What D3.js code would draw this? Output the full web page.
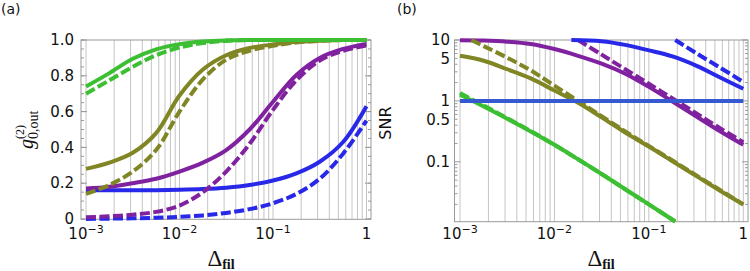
<!DOCTYPE html>
<html>
<head>
<meta charset="utf-8">
<script src="https://cdn.jsdelivr.net/npm/d3@7"></script>
<style>
  body { margin: 0; background: #fff; }
  svg { display: block; }
  .tick-label { font-family: "DejaVu Sans", sans-serif; font-size: 15px; fill: #111; }
</style>
</head>
<body>
<div id="chart"></div>
<script>
// ---- data ----
// common sample grid for Delta_fil
var deltaGrid = [0.001, 0.00178, 0.00316, 0.00562, 0.01, 0.0178, 0.0316, 0.0562, 0.1, 0.178, 0.316, 0.562, 1];

// panel (a): g2(0,out)
var g2GreenSolid  = [0.74, 0.815, 0.895, 0.948, 0.977, 0.992, 0.998, 1, 1, 1, 1, 1, 1];
var g2GreenDash   = [0.70, 0.775, 0.85, 0.915, 0.958, 0.983, 0.995, 1, 1, 1, 1, 1, 1];
var g2OliveSolid  = [0.28, 0.315, 0.37, 0.48, 0.69, 0.835, 0.915, 0.955, 0.975, 0.99, 0.996, 1, 1];
var g2OliveDash   = [0.14, 0.19, 0.265, 0.385, 0.60, 0.78, 0.89, 0.94, 0.968, 0.986, 0.995, 1, 1];
var g2PurpleSolid = [0.17, 0.18, 0.20, 0.225, 0.265, 0.315, 0.385, 0.50, 0.655, 0.805, 0.90, 0.95, 0.978];
var g2PurpleDash  = [0.01, 0.015, 0.024, 0.04, 0.075, 0.15, 0.265, 0.42, 0.61, 0.775, 0.885, 0.94, 0.97];
var g2BlueSolid   = [0.16, 0.16, 0.16, 0.161, 0.163, 0.167, 0.175, 0.19, 0.215, 0.255, 0.32, 0.43, 0.63];
var g2BlueDash    = [0.0, 0.002, 0.004, 0.007, 0.012, 0.02, 0.034, 0.055, 0.088, 0.14, 0.225, 0.365, 0.55];

// panel (b): SNR
var snrPurpleSolid = [9.9, 9.8, 9.4, 8.6, 7.1, 5.5, 4.1, 2.8, 1.7, 0.98, 0.56, 0.32, 0.19];
var deltaPurpleDash = [0.0178, 0.0316, 0.0562, 0.1, 0.178, 0.316, 0.562, 1];
var snrPurpleDash   = [10, 5.75, 3.31, 1.91, 1.10, 0.63, 0.36, 0.21];
var snrOliveSolid  = [5.5, 4.57, 3.31, 2.34, 1.48, 0.93, 0.537, 0.302, 0.178, 0.102, 0.0589, 0.0339, 0.020];
var deltaOliveDash = [0.00132, 0.00178, 0.00316, 0.00562, 0.01, 0.0178, 0.0316, 0.0562, 0.1, 0.178, 0.316, 0.562, 1];
var snrOliveDash   = [10, 7.94, 5.13, 3.16, 1.78, 1.0, 0.562, 0.316, 0.182, 0.105, 0.0603, 0.0347, 0.020];
var deltaGreen     = [0.001, 0.00178, 0.00316, 0.00562, 0.01, 0.0178, 0.0316, 0.0562, 0.1, 0.19];
var snrGreenSolid  = [1.26, 0.81, 0.51, 0.316, 0.19, 0.11, 0.063, 0.0355, 0.020, 0.0105];
var snrGreenDash   = [1.35, 0.84, 0.52, 0.32, 0.19, 0.11, 0.063, 0.0355, 0.020, 0.0105];
var deltaBlueSolid = [0.0151, 0.0316, 0.0562, 0.1, 0.178, 0.316, 0.562, 1];
var snrBlueSolid   = [10, 9.55, 8.32, 6.76, 5.37, 3.80, 2.45, 1.58];
var deltaBlueDash  = [0.19, 0.316, 0.562, 1];
var snrBlueDash    = [10, 6.1, 3.55, 2.05];
var deltaUnity     = [0.001, 1];
var snrUnity       = [1, 1];

// tick labels
var g2Ticks = [0, 0.2, 0.4, 0.6, 0.8, 1.0];
var g2TickText = ["0", "0.2", "0.4", "0.6", "0.8", "1.0"];
var snrTicks = [10, 5, 1, 0.5, 0.1];
var snrTickText = ["10", "5", "1", "0.5", "0.1"];
var xTicks = [0.001, 0.01, 0.1, 1];
var xTickExp = ["\u22123", "\u22122", "\u22121", ""];

var colors = {
    green: "#3dbf33",
    olive: "#818624",
    purple: "#8022a0",
    blue: "#2828e8",
    unity: "#3658d0"
};

var svgWidth = 750;
var svgHeight = 271;

var svg = d3.select("#chart")
    .append("svg")
    .attr("width", svgWidth)
    .attr("height", svgHeight);

// panel frames (pixel boxes)
var frameA = { left: 81, right: 371, top: 40, bottom: 219.3 };
var frameB = { left: 454.5, right: 748, top: 40, bottom: 221.7 };

// Step 1: scales
var xA = d3.scaleLog().domain([0.001, 1]).range([86, 366.5]);
var yA = d3.scaleLinear().domain([0, 1]).range([219, 40]);
var xB = d3.scaleLog().domain([0.001, 1]).range([460, 743.3]);
var yB = d3.scaleLog().domain([0.0104, 10]).range([frameB.bottom, 40]);

// grid positions 1..9 x decade
var gridVals = [];
[0.001, 0.01, 0.1].forEach(function(dec) {
    for (var k = 1; k < 10; k++) gridVals.push(dec * k);
});
gridVals.push(1);

function drawFrame(frame, xScale) {
    var g = svg.append("g");
    g.selectAll("line.grid")
        .data(gridVals)
        .enter()
        .append("line")
        .attr("x1", d => xScale(d))
        .attr("x2", d => xScale(d))
        .attr("y1", frame.top)
        .attr("y2", frame.bottom)
        .attr("stroke", "#bdbdbd")
        .attr("stroke-width", 0.9);
    g.append("rect")
        .attr("x", frame.left)
        .attr("y", frame.top)
        .attr("width", frame.right - frame.left)
        .attr("height", frame.bottom - frame.top)
        .attr("fill", "none")
        .attr("stroke", "#9a9a9a")
        .attr("stroke-width", 1);

    // x tick labels: 10^n
    var lab = g.selectAll("text.xt")
        .data(xTicks)
        .enter()
        .append("text")
        .attr("class", "tick-label")
        .attr("x", d => xScale(d))
        .attr("y", 239)
        .attr("text-anchor", "middle");
    lab.each(function(d, i) {
        var t = d3.select(this);
        if (xTickExp[i] === "") {
            t.text("1");
        } else {
            t.append("tspan").text("10");
            t.append("tspan").attr("dy", -6).attr("font-size", "11px").text(xTickExp[i]);
        }
    });
    return g;
}

function yTickMarks(g, frame, scale, vals, len) {
    g.selectAll(null)
        .data(vals)
        .enter()
        .append("path")
        .attr("d", d => "M" + frame.left + "," + scale(d) + "h" + len +
            "M" + frame.right + "," + scale(d) + "h" + (-len))
        .attr("stroke", "#9a9a9a")
        .attr("stroke-width", 1);
}

function drawLine(xScale, yScale, xs, ys, color, dashed) {
    var pts = xs.map(function(x, i) { return [x, ys[i]]; });
    var line = d3.line()
        .x(d => xScale(d[0]))
        .y(d => yScale(d[1]))
        .curve(d3.curveCatmullRom.alpha(0.5));
    svg.append("path")
        .datum(pts)
        .attr("d", line)
        .attr("fill", "none")
        .attr("stroke", color)
        .attr("stroke-width", 4)
        .attr("stroke-dasharray", dashed ? "10,3.5" : null);
}

// Step 2: panel (a)
var gA = drawFrame(frameA, xA);
var minorA = d3.range(0, 1.0001, 0.05);
yTickMarks(gA, frameA, yA, minorA, 3);
yTickMarks(gA, frameA, yA, g2Ticks, 6);
gA.selectAll("text.yt")
    .data(g2Ticks)
    .enter()
    .append("text")
    .attr("class", "tick-label")
    .attr("x", 74)
    .attr("y", d => yA(d))
    .attr("dy", "0.34em")
    .attr("text-anchor", "end")
    .text((d, i) => g2TickText[i]);

drawLine(xA, yA, deltaGrid, g2BlueSolid, colors.blue, false);
drawLine(xA, yA, deltaGrid, g2BlueDash, colors.blue, true);
drawLine(xA, yA, deltaGrid, g2PurpleSolid, colors.purple, false);
drawLine(xA, yA, deltaGrid, g2PurpleDash, colors.purple, true);
drawLine(xA, yA, deltaGrid, g2OliveSolid, colors.olive, false);
drawLine(xA, yA, deltaGrid, g2OliveDash, colors.olive, true);
drawLine(xA, yA, deltaGrid, g2GreenSolid, colors.green, false);
drawLine(xA, yA, deltaGrid, g2GreenDash, colors.green, true);

// Step 3: panel (b)
var gB = drawFrame(frameB, xB);
var minorB = [];
[0.01, 0.1, 1].forEach(function(dec) {
    for (var k = 2; k < 10; k++) minorB.push(dec * k);
});
yTickMarks(gB, frameB, yB, minorB, 3);
yTickMarks(gB, frameB, yB, [0.1, 1, 10], 6);
gB.selectAll("text.yt")
    .data(snrTicks)
    .enter()
    .append("text")
    .attr("class", "tick-label")
    .attr("x", 450)
    .attr("y", d => yB(d))
    .attr("dy", "0.36em")
    .attr("text-anchor", "end")
    .text((d, i) => snrTickText[i]);

drawLine(xB, yB, deltaGrid, snrPurpleSolid, colors.purple, false);
drawLine(xB, yB, deltaPurpleDash, snrPurpleDash, colors.purple, true);
drawLine(xB, yB, deltaGrid, snrOliveSolid, colors.olive, false);
drawLine(xB, yB, deltaOliveDash, snrOliveDash, colors.olive, true);
drawLine(xB, yB, deltaGreen, snrGreenSolid, colors.green, false);
drawLine(xB, yB, deltaGreen, snrGreenDash, colors.green, true);
drawLine(xB, yB, deltaBlueSolid, snrBlueSolid, colors.blue, false);
drawLine(xB, yB, deltaBlueDash, snrBlueDash, colors.blue, true);
drawLine(xB, yB, deltaUnity, snrUnity, colors.unity, false);

// Step 4: labels
svg.append("text").attr("class", "tick-label")
    .style("font-size", "14px").attr("x", 1).attr("y", 14).text("(a)");
svg.append("text").attr("class", "tick-label")
    .style("font-size", "14px").attr("x", 397).attr("y", 14).text("(b)");

function deltaLabel(cx) {
    var t = svg.append("text")
        .attr("x", cx)
        .attr("y", 266)
        .attr("text-anchor", "middle")
        .attr("font-family", "'Liberation Serif', serif")
        .attr("fill", "#111");
    t.append("tspan").attr("font-size", "23px").text("\u0394");
    t.append("tspan").attr("font-size", "14px").attr("font-weight", "bold")
        .attr("dy", 3).text("fil");
}
deltaLabel(221);
deltaLabel(601);

// y label (a): g^(2)_{0,out}, rotated
var yl = svg.append("g")
    .attr("transform", "translate(33,149) rotate(-90)")
    .attr("font-family", "'Liberation Serif', serif")
    .attr("fill", "#111");
yl.append("text").attr("font-size", "20px").attr("font-style", "italic").text("g");
yl.append("text").attr("x", 10).attr("y", -9).attr("font-size", "12px").text("(2)");
yl.append("text").attr("x", 10).attr("y", 5).attr("font-size", "14px").text("0,out");

// y label (b)
svg.append("text")
    .attr("transform", "translate(391,123) rotate(-90)")
    .attr("text-anchor", "middle")
    .attr("font-family", "'DejaVu Sans', sans-serif")
    .attr("font-size", "16px")
    .attr("fill", "#111")
    .text("SNR");
</script>
</body>
</html>
